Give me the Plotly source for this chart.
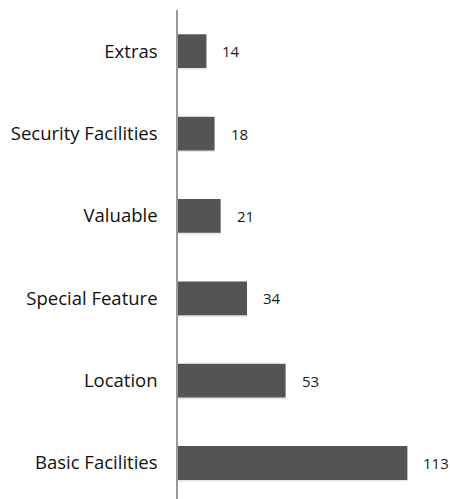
import plotly.graph_objects as go

categories = ["Basic Facilities", "Location", "Special Feature", "Valuable",
              "Security Facilities", "Extras"]
counts = [113, 53, 34, 21, 18, 14]

FONT = "Open Sans, sans-serif"

fig = go.Figure()

# soft drop shadow under each bar
fig.add_trace(go.Bar(
    y=categories, x=counts, orientation="h", width=0.41,
    marker=dict(color="rgba(0,0,0,0.10)", line=dict(width=0)),
    offset=-0.225, hoverinfo="skip", showlegend=False,
))

fig.add_trace(go.Bar(
    y=categories, x=counts, orientation="h", width=0.41,
    marker=dict(color="#545454", line=dict(width=0)),
    showlegend=False,
))

for cat, val in zip(categories, counts):
    fig.add_annotation(
        x=val, y=cat, text=str(val), showarrow=False,
        xanchor="left", xshift=14,
        font=dict(family=FONT, size=15, color="#1a1a1a"),
    )

fig.update_layout(
    width=450, height=499,
    margin=dict(l=178, r=0, t=10, b=0),
    paper_bgcolor="white", plot_bgcolor="white",
    barmode="overlay",
    xaxis=dict(range=[0, 134], visible=False),
    yaxis=dict(
        categoryorder="array", categoryarray=categories,
        range=[-0.437, 5.5],
        showline=True, linecolor="#9a9a9a", linewidth=1.5,
        showgrid=False, ticks="", ticklabelstandoff=15,
        tickfont=dict(family=FONT, size=18.5, color="#111"),
    ),
)

fig.write_html("out.html")
